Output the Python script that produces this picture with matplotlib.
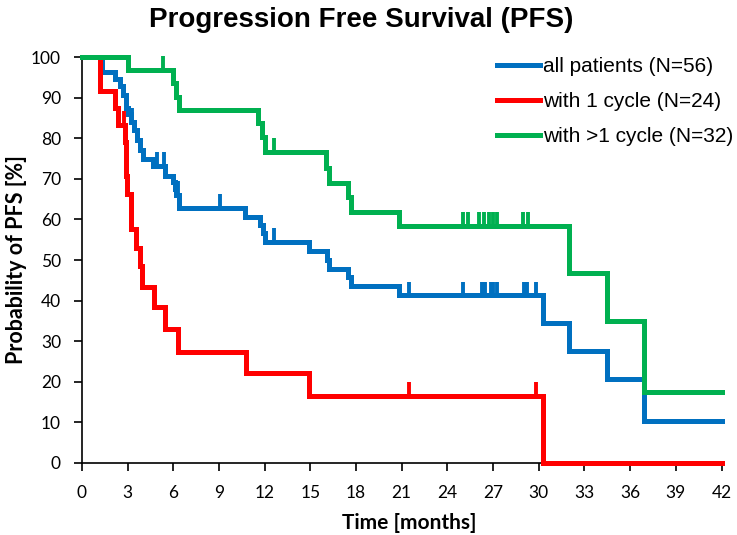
import numpy as np
import matplotlib
matplotlib.use("Agg")
import matplotlib.pyplot as plt

# Kaplan-Meier steps: (time of drop, survival after drop)
all_t = [1.3, 2.2, 2.5, 2.7, 2.9, 3.05, 3.2, 3.4, 3.6, 3.8, 4.0, 4.7, 5.45, 6.0, 6.1, 6.2, 6.4,
         10.7, 11.7, 11.9, 12.0, 14.9, 16.1, 16.2, 17.45, 17.7, 20.8, 30.3, 32.0, 34.5, 36.9]
all_s = [96.4, 94.6, 92.9, 90.6, 87.5, 85.9, 84.0, 82.0, 79.6, 77.2, 75.0, 73.2, 70.8, 69.3, 67.6, 66.0, 62.8,
         60.7, 58.6, 56.6, 54.4, 52.1, 50.0, 47.8, 45.7, 43.5, 41.3, 34.5, 27.6, 20.7, 10.3]
all_cens = [3.3, 4.95, 5.4, 6.3, 9.1, 12.6, 21.5, 25.0, 26.3, 26.5, 26.85, 27.0, 27.25, 29.0, 29.2, 29.8]

one_t = [1.2, 2.2, 2.4, 2.85, 2.9, 2.98, 3.26, 3.59, 3.81, 3.92, 4.73, 5.45, 6.33, 10.78, 14.93, 30.3]
one_s = [91.7, 87.5, 83.3, 79.2, 70.8, 66.4, 57.6, 52.9, 48.4, 43.4, 38.3, 32.9, 27.4, 22.1, 16.5, 0.0]
one_cens = [2.8, 21.5, 29.8]

multi_t = [3.0, 6.0, 6.2, 6.35, 11.6, 11.8, 12.05, 16.05, 16.2, 17.45, 17.7, 20.85, 32.0, 34.5, 36.9]
multi_s = [96.9, 93.6, 90.3, 87.1, 83.7, 80.3, 76.6, 72.8, 69.1, 65.6, 61.9, 58.4, 46.7, 35.0, 17.5]
multi_cens = [5.35, 6.25, 12.6, 25.0, 25.35, 26.1, 26.4, 26.75, 27.0, 27.25, 28.95, 29.3]

labels = ["all patients (N=56)", "with 1 cycle (N=24)", "with >1 cycle (N=32)"]
colors = ["#0070C0", "#FF0000", "#00B050"]
t_end = 42

fig = plt.figure(figsize=(7.37, 5.35), dpi=100)
ax = fig.add_axes([0.111, 0.135, 0.868, 0.758])

series = [(all_t, all_s, all_cens), (one_t, one_s, one_cens), (multi_t, multi_s, multi_cens)]
for (t, s, cens), lab, col in zip(series, labels, colors):
    tt = np.array([0] + t + [t_end])
    ss = np.array([100] + s + [s[-1]])
    ax.step(tt, ss, where="post", color=col, lw=3.6, label=lab,
            solid_joinstyle="miter", clip_on=False, zorder=3)
    # censor ticks rise above the curve
    idx = np.searchsorted(tt, cens, side="right") - 1
    yc = ss[idx]
    ax.vlines(cens, yc, yc + 3.4, color=col, lw=2.8, clip_on=False, zorder=3)

ax.set_xlim(0, 42)
ax.set_ylim(0, 100)
ax.set_xticks(np.arange(0, 43, 3))
ax.set_yticks(np.arange(0, 101, 10))
for sp in ["top", "right"]:
    ax.spines[sp].set_visible(False)
ax.spines["left"].set_linewidth(1.2)
ax.spines["bottom"].set_linewidth(1.2)
ax.tick_params(direction="out", length=6, width=1.2, labelsize=12.5)
ax.tick_params(axis="x", pad=10)
ax.tick_params(axis="y", pad=9)
for lbl in ax.get_xticklabels() + ax.get_yticklabels():
    lbl.set_family(["Lato", "DejaVu Sans"])

ax.set_xlabel("Time [months]", fontsize=15, fontweight="bold", family=["Lato", "DejaVu Sans"])
ax.set_ylabel("Probability of PFS [%]", fontsize=15.5, fontweight="bold", family=["Lato", "DejaVu Sans"])
ax.xaxis.set_label_coords(0.5125, -0.125)
ax.yaxis.set_label_coords(-0.085, 0.5)
fig.suptitle("Progression Free Survival (PFS)", fontsize=20, fontweight="bold",
             family=["Liberation Sans", "DejaVu Sans"], x=0.49, y=0.987)

leg = ax.legend(loc="upper right", frameon=False, handlelength=2.05, handletextpad=0.15,
                labelspacing=0.77, borderpad=0, borderaxespad=0,
                prop={"family": ["Liberation Sans", "DejaVu Sans"], "size": 15},
                bbox_to_anchor=(0.995, 1 - 57 / 535), bbox_transform=fig.transFigure)

fig.savefig("out.png", dpi=100)
